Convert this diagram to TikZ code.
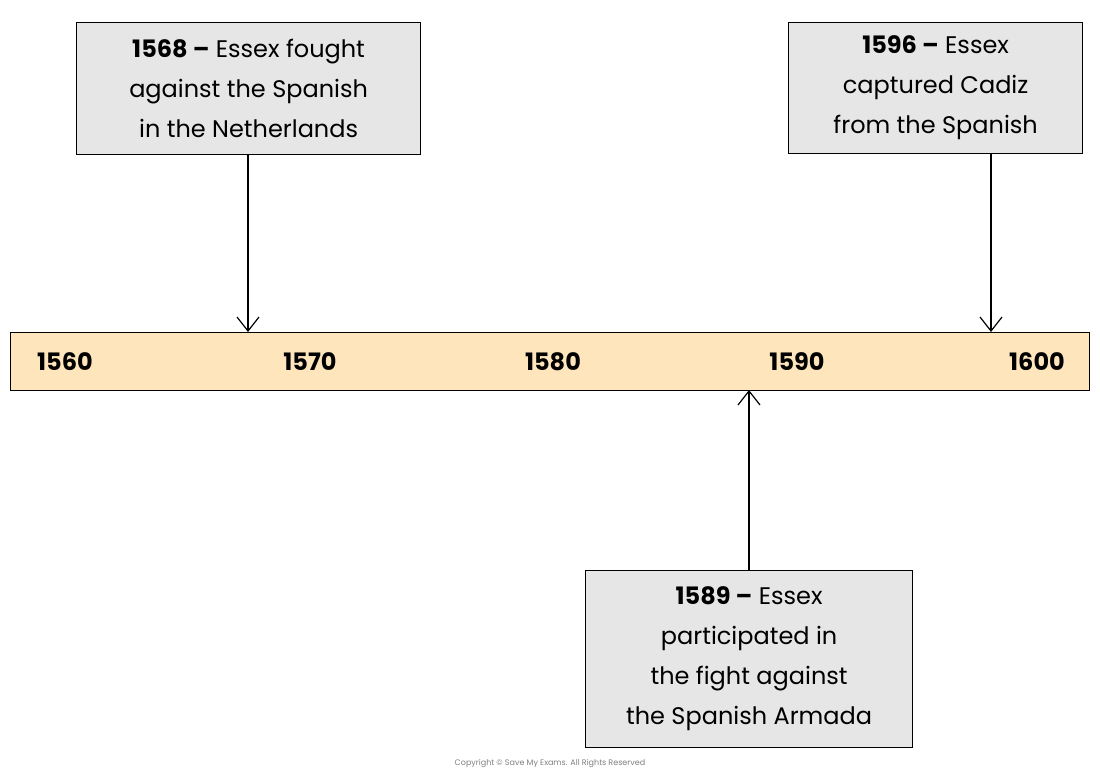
\documentclass[tikz,border=0pt]{standalone}
\usepackage{fontspec}
\setmainfont{Poppins}
\usetikzlibrary{arrows.meta}
\definecolor{barfill}{HTML}{FFE5BC}
\definecolor{boxfill}{HTML}{E6E6E6}
\begin{document}
\begin{tikzpicture}[x=1pt,y=-1pt,
  ev/.style={draw=black,line width=1.2pt,fill=boxfill,align=center,font=\fontsize{24}{40}\selectfont,inner sep=0pt,anchor=north west},
  yr/.style={font=\fontsize{24}{28}\selectfont\bfseries},
  conn/.style={line width=1.2pt,-{Straight Barb[length=14pt,width=22pt,line width=1.2pt]}}]
\useasboundingbox (0,0) rectangle (1100,778);
\fill[white] (0,0) rectangle (1100,778);
\node[draw=black,line width=1.2pt,fill=barfill,minimum width=1079pt,minimum height=58pt,inner sep=0pt,anchor=north west] (bar) at (10,332) {};
\node[yr] (y1) at (65,362) {1560};
\node[yr] (y2) at (310,362) {1570};
\node[yr] (y3) at (553,362) {1580};
\node[yr] (y4) at (797,362) {1590};
\node[yr] (y5) at (1037,362) {1600};
\node[ev,minimum width=344pt,minimum height=132pt] (b1) at (76,22) {\textbf{1568 –} Essex fought\\against the Spanish\\in the Netherlands};
\node[ev,minimum width=294pt,minimum height=131pt] (b2) at (788,22) {\textbf{1596 –} Essex\\captured Cadiz\\from the Spanish};
\node[ev,minimum width=327pt,minimum height=177pt] (b3) at (585,570) {\textbf{1589 –} Essex\\participated in\\the fight against\\the Spanish Armada};
\coordinate (t1) at (248,332);
\coordinate (t2) at (991,332);
\coordinate (t3) at (749,390);
\draw[conn] (b1.south -| t1) -- (t1);
\draw[conn] (b2.south -| t2) -- (t2);
\draw[conn] (b3.north -| t3) -- (t3);
\node[font=\fontsize{8}{10}\selectfont,text=gray] (cp) at (550,764) {Copyright © Save My Exams. All Rights Reserved};
\end{tikzpicture}
\end{document}
